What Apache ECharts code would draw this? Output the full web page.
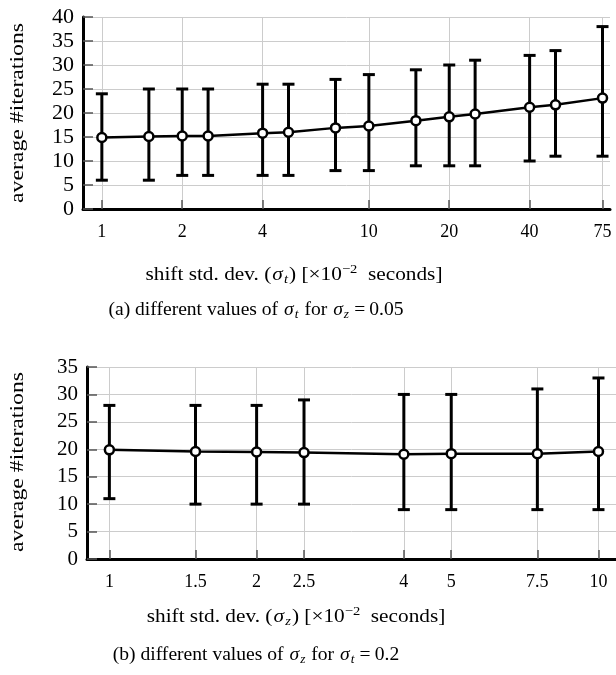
<!DOCTYPE html>
<html>
<head>
<meta charset="utf-8">
<script src="https://cdn.jsdelivr.net/npm/echarts@6/dist/echarts.min.js"></script>
<style>
  html, body { margin: 0; padding: 0; background: #fff; }
  #chart { width: 616px; height: 675px; }
</style>
</head>
<body>
<div id="chart"></div>
<script>
// (a) sigma_t varies, sigma_z = 0.05
const sigmaT = [1, 1.5, 2, 2.5, 4, 5, 7.5, 10, 15, 20, 25, 40, 50, 75];
const meanT = [14.9, 15.1, 15.2, 15.2, 15.8, 16.0, 16.9, 17.3, 18.4, 19.2, 19.8, 21.2, 21.7, 23.1];
const lowT = [6, 6, 7, 7, 7, 7, 8, 8, 9, 9, 9, 10, 11, 11];
const highT = [24, 25, 25, 25, 26, 26, 27, 28, 29, 30, 31, 32, 33, 38];
const ticksT = [1, 2, 4, 10, 20, 40, 75];

// (b) sigma_z varies, sigma_t = 0.2
const sigmaZ = [1, 1.5, 2, 2.5, 4, 5, 7.5, 10];
const meanZ = [19.9, 19.6, 19.5, 19.4, 19.1, 19.2, 19.2, 19.6];
const lowZ = [11, 10, 10, 10, 9, 9, 9, 9];
const highZ = [28, 28, 28, 29, 30, 30, 31, 33];
const ticksZ = [1, 1.5, 2, 2.5, 4, 5, 7.5, 10];

const serif = 'Liberation Serif';

const chart = echarts.init(document.getElementById('chart'));

// error bar: vertical line + two caps
function errorBar(params, api) {
  const x = api.value(0);
  const lo = api.coord([x, api.value(1)]);
  const hi = api.coord([x, api.value(2)]);
  const cap = 6;
  const st = { stroke: '#000', lineWidth: 3 };
  return {
    type: 'group',
    children: [
      { type: 'line', shape: { x1: lo[0], y1: lo[1], x2: hi[0], y2: hi[1] }, style: st },
      { type: 'line', shape: { x1: lo[0] - cap, y1: lo[1], x2: lo[0] + cap, y2: lo[1] }, style: st },
      { type: 'line', shape: { x1: hi[0] - cap, y1: hi[1], x2: hi[0] + cap, y2: hi[1] }, style: st }
    ]
  };
}

function xAxisCfg(idx, min, max, ticks, size) {
  return {
    type: 'log',
    logBase: 10,
    gridIndex: idx,
    min: min,
    max: max,
    axisLine: { lineStyle: { color: '#000', width: 3 } },
    axisTick: { show: true, inside: true, length: 9, customValues: ticks, lineStyle: { color: '#555', width: 1.5 } },
    axisLabel: { customValues: ticks, margin: 14, color: '#000', fontFamily: serif, fontSize: size },
    splitLine: { show: true, lineStyle: { color: '#ccc', width: 1 } },
    minorTick: { show: false },
    minorSplitLine: { show: false }
  };
}

function yAxisCfg(idx, max, size) {
  return {
    type: 'value',
    gridIndex: idx,
    min: 0,
    max: max,
    interval: 5,
    axisLine: { show: true, lineStyle: { color: '#000', width: 3 } },
    axisTick: { show: true, inside: true, length: 10, lineStyle: { color: '#555', width: 1.5 } },
    axisLabel: { margin: 9, color: '#000', fontFamily: serif, fontSize: size },
    splitLine: { show: true, lineStyle: { color: '#ccc', width: 1 } }
  };
}

function textEl(x, y, text, size, stretch, rotate) {
  return {
    type: 'text',
    x: x,
    y: y,
    rotation: rotate ? Math.PI / 2 : 0,
    scaleX: stretch,
    style: {
      text: text,
      fontFamily: serif,
      fontSize: size,
      fill: '#000',
      align: 'center',
      verticalAlign: 'middle',
      textAlign: 'center',
      textVerticalAlign: 'middle',
      rich: {
        s: { fontFamily: serif, fontSize: size, fontStyle: 'italic', lineHeight: size + 4, padding: [0, 1, 0, 1] },
        sub: { fontFamily: serif, fontSize: size - 6, fontStyle: 'italic', lineHeight: size - 6, verticalAlign: 'bottom', padding: [0, 1, 0, 0] },
        sup: { fontFamily: serif, fontSize: size - 6, lineHeight: size - 6, verticalAlign: 'top' },
        eq: { fontFamily: serif, fontSize: size, lineHeight: size + 4, padding: [0, 4, 0, 4] },
        n: { fontFamily: serif, fontSize: size, lineHeight: size + 4 }
      }
    }
  };
}

const option = {
  animation: false,
  backgroundColor: '#fff',
  grid: [
    { left: 83, top: 17, width: 527, height: 192 },
    { left: 87, top: 367, width: 529, height: 192 }
  ],
  xAxis: [
    xAxisCfg(0, 0.85, 80, ticksT, 18),
    xAxisCfg(1, 0.9, 10.86, ticksZ, 18)
  ],
  yAxis: [
    yAxisCfg(0, 40, 22),
    yAxisCfg(1, 35, 21)
  ],
  series: [
    {
      type: 'custom',
      xAxisIndex: 0, yAxisIndex: 0,
      renderItem: errorBar,
      data: sigmaT.map((x, i) => [x, lowT[i], highT[i]]),
      z: 2
    },
    {
      type: 'line',
      xAxisIndex: 0, yAxisIndex: 0,
      data: sigmaT.map((x, i) => [x, meanT[i]]),
      symbol: 'circle',
      symbolSize: 9,
      lineStyle: { color: '#000', width: 2.5 },
      itemStyle: { color: '#fff', borderColor: '#000', borderWidth: 2.5 },
      clip: false,
      z: 3
    },
    {
      type: 'custom',
      xAxisIndex: 1, yAxisIndex: 1,
      renderItem: errorBar,
      data: sigmaZ.map((x, i) => [x, lowZ[i], highZ[i]]),
      z: 2
    },
    {
      type: 'line',
      xAxisIndex: 1, yAxisIndex: 1,
      data: sigmaZ.map((x, i) => [x, meanZ[i]]),
      symbol: 'circle',
      symbolSize: 9,
      lineStyle: { color: '#000', width: 2.5 },
      itemStyle: { color: '#fff', borderColor: '#000', borderWidth: 2.5 },
      clip: false,
      z: 3
    }
  ],
  graphic: [
    textEl(18, 113, 'average #iterations', 18, 1.32, true),
    textEl(18, 462, 'average #iterations', 18, 1.32, true),
    textEl(294, 275, '{n|shift std. dev. (}{s|σ}{sub|t}{n|) [×10}{sup|−2}{n|  seconds]}', 19, 1.12),
    textEl(256, 310, '{n|(a) different values of }{s|σ}{sub|t}{n| for }{s|σ}{sub|z}{eq|=}{n|0.05}', 19, 1.03),
    textEl(296, 617, '{n|shift std. dev. (}{s|σ}{sub|z}{n|) [×10}{sup|−2}{n|  seconds]}', 19, 1.12),
    textEl(256, 655, '{n|(b) different values of }{s|σ}{sub|z}{n| for }{s|σ}{sub|t}{eq|=}{n|0.2}', 19, 1.03)
  ]
};

chart.setOption(option);
</script>
</body>
</html>
